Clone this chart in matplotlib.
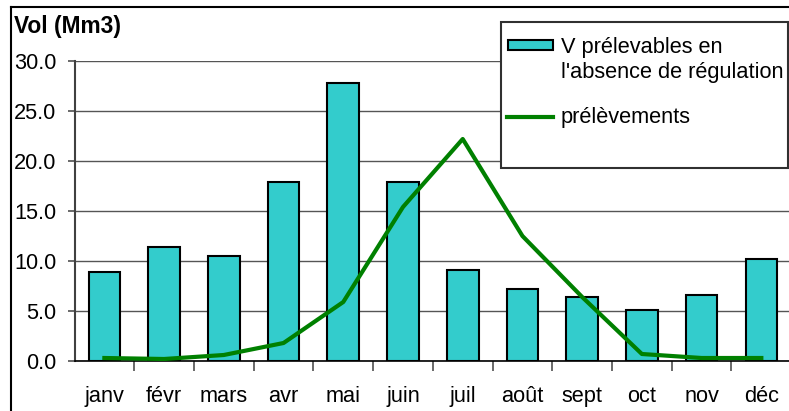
import numpy as np
import matplotlib.pyplot as plt
from matplotlib.patches import Rectangle
from matplotlib.lines import Line2D

plt.rcParams['font.family'] = ['Liberation Sans', 'DejaVu Sans']

months = ["janv", "févr", "mars", "avr", "mai", "juin",
          "juil", "août", "sept", "oct", "nov", "déc"]
v_prelevables = [8.9, 11.4, 10.5, 17.9, 27.8, 17.9, 9.1, 7.2, 6.4, 5.1, 6.6, 10.2]
prelevements = [0.3, 0.2, 0.6, 1.8, 5.9, 15.4, 22.2, 12.5, 6.4, 0.7, 0.3, 0.3]
yticks = [0, 5, 10, 15, 20, 25, 30]

W, H = 789, 411
FS = 15.7
fig = plt.figure(figsize=(W / 100, H / 100), dpi=100)
ax = fig.add_axes([74.5 / W, 1 - 361 / H, 716.7 / W, 300 / H])

x = np.arange(len(months))
ax.bar(x, v_prelevables, width=0.53, color='#33CCCC', edgecolor='black',
       linewidth=1.5, zorder=3)
ax.plot(x, prelevements, color='#008000', linewidth=3, zorder=4)

ax.set_xlim(-0.5, len(months) - 0.5)
ax.set_ylim(0, 30)
ax.set_yticks(yticks, [f"{t:.1f}" for t in yticks], fontsize=FS)
ax.yaxis.grid(True, color='#555555', linewidth=1.0, zorder=0)
ax.set_axisbelow(True)

ax.set_xticks(x, months, fontsize=FS)
ax.set_xticks(np.arange(0.5, len(months) - 0.5, 1), minor=True)
ax.tick_params(axis='x', which='major', length=0, pad=18)
ax.tick_params(axis='x', which='minor', length=7, width=1.2, color='#505050')
ax.tick_params(axis='y', length=5, width=1.2, color='#505050', pad=8)

for s in ['top', 'right']:
    ax.spines[s].set_visible(False)
ax.spines['left'].set_color('#404040')
ax.spines['left'].set_linewidth(1.5)
ax.spines['bottom'].set_color('black')
ax.spines['bottom'].set_linewidth(1.2)

fig.text(14 / W, 1 - 33 / H, "Vol (Mm3)", fontsize=16.4, fontweight='bold',
         va='baseline', ha='left')

# outer chart frame
fig.add_artist(Line2D([11 / W, 11 / W], [0, 1 - 7 / H], transform=fig.transFigure,
                      color='black', linewidth=1.5))
fig.add_artist(Line2D([11 / W, 1], [1 - 7 / H, 1 - 7 / H], transform=fig.transFigure,
                      color='black', linewidth=1.5))

# legend box
fig.add_artist(Rectangle((501 / W, 1 - 168 / H), 287 / W, 146 / H,
                         transform=fig.transFigure, facecolor='white',
                         edgecolor='#303030', linewidth=1.5, zorder=5))
fig.add_artist(Rectangle((508 / W, 1 - 50 / H), 45 / W, 10 / H,
                         transform=fig.transFigure, facecolor='#33CCCC',
                         edgecolor='black', linewidth=1.5, zorder=6))
fig.add_artist(Line2D([507 / W, 553 / W], [1 - 117 / H, 1 - 117 / H],
                      transform=fig.transFigure, color='#008000',
                      linewidth=3, zorder=6))
fig.text(561 / W, 1 - 53 / H, "V prélevables en", fontsize=FS, va='baseline', zorder=7)
fig.text(561 / W, 1 - 78 / H, "l'absence de régulation", fontsize=FS, va='baseline', zorder=7)
fig.text(561 / W, 1 - 123 / H, "prélèvements", fontsize=FS, va='baseline', zorder=7)

fig.savefig("out.png", dpi=100)
